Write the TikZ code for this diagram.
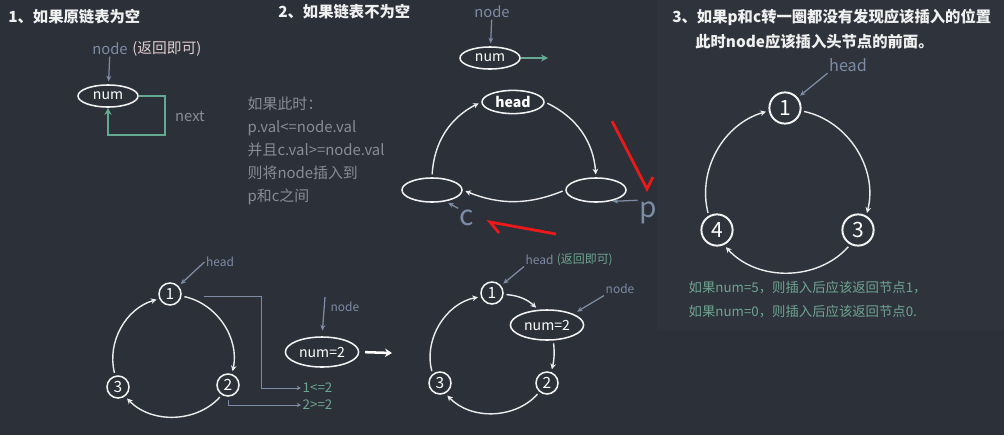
\documentclass[tikz,border=0pt]{standalone}
\usepackage{fontspec}
\setmainfont{Noto Sans CJK SC}
\usetikzlibrary{arrows.meta,positioning,shapes.geometric,calc}
\definecolor{bg}{RGB}{44,48,56}
\definecolor{pnl}{RGB}{47,51,59}
\definecolor{lbl}{RGB}{125,140,165}
\definecolor{grn}{RGB}{100,170,145}
\definecolor{grntxt}{RGB}{110,165,145}
\definecolor{txt}{RGB}{135,140,150}
\definecolor{pnk}{RGB}{225,205,205}
\definecolor{redink}{RGB}{235,25,25}
\tikzset{
  heading/.style={anchor=west,text=white!94!black,inner sep=0pt,font=\fontsize{10.9}{13}\selectfont\bfseries},
  oval/.style={ellipse,draw=white!95!black,line width=1.1pt,text=white,minimum width=1.5cm,minimum height=0.55cm,inner sep=0pt,font=\fontsize{10}{12}\selectfont},
  cnode/.style={circle,draw=white!95!black,line width=1.1pt,text=white,minimum size=0.55cm,inner sep=0pt,font=\fontsize{11}{12}\selectfont},
  bignode/.style={cnode,minimum size=0.78cm,line width=1.4pt,font=\fontsize{15}{16}\selectfont},
  tag/.style={text=lbl,inner sep=1pt,font=\fontsize{10.5}{12}\selectfont},
  smalltag/.style={tag,font=\fontsize{8.5}{10}\selectfont},
  ring/.style={-{Stealth[length=4pt,width=4pt]},line width=1pt,draw=white!92!black,shorten <=2pt,shorten >=2pt},
  pointer/.style={-{Stealth[length=4pt,width=3.5pt]},line width=0.9pt,draw=lbl,shorten >=2pt},
  loopback/.style={-{Stealth[length=5pt,width=5pt]},line width=1.6pt,draw=grn},
  compare/.style={-{Stealth[length=3pt,width=3pt]},line width=0.5pt,draw=lbl},
  scribble/.style={line width=2pt,draw=redink},
}
\begin{document}
\begin{tikzpicture}[x=0.025cm,y=0.025cm]
\fill[bg] (0,0) rectangle (1004,-435);
\useasboundingbox (0,0) rectangle (1004,-435);
\fill[pnl] (657,0) rectangle (1004,-330);

% part 1: empty list
\node[heading] (t1) at (8,-17) {1、如果原链表为空};
\node[tag] (nd1) at (110,-49) {node};
\node[tag,text=pnk,right=1pt of nd1] (ret1) {(返回即可)};
\node[oval] (n1) at (108,-96) {num};
\draw[pointer] (nd1) -- (n1);
\coordinate (lp) at (165,-135);
\draw[loopback] (n1.east) -| (lp) -| (n1.south);
\node[tag,text=txt] (nx) at (190,-116) {next};

% part 2: list not empty
\node[heading] (t2) at (278,-12) {2、如果链表不为空};
\node[tag] (nd2) at (492,-12) {node};
\node[oval] (n2) at (490,-58) {num};
\draw[pointer] (nd2) -- (n2);
\coordinate (go) at (548,-58);
\draw[loopback] (n2.east) -- (go);

\node[oval,minimum width=1.55cm,minimum height=0.58cm,font=\fontsize{10}{12}\selectfont\bfseries] (hd) at (513,-102) {head};
\node[oval,minimum height=0.6cm] (cn) at (432,-190) {};
\node[oval,minimum height=0.6cm] (pn) at (596,-190) {};
\draw[ring] (hd.east) to[bend left=30] (pn.north);
\draw[ring] (pn.west) to[bend left=22] (cn.east);
\draw[ring] (cn.north) to[bend left=30] (hd.west);

\node[tag,text=txt,anchor=north west,align=left,font=\fontsize{10.6}{16.4}\selectfont] (cond) at (246,-95)
  {如果此时：\\p.val<=node.val\\并且c.val>=node.val\\则将node插入到\\p和c之间};

\node[tag,font=\fontsize{20}{20}\selectfont] (cl) at (467,-218) {c};
\node[tag,font=\fontsize{20}{20}\selectfont] (pl) at (648,-213) {p};
\draw[pointer] (cl.north west) -- (cn.-40);
\draw[pointer] (pl.north west) -- (pn.-40);

% hand drawn marks
\draw[scribble] (612,-121) -- (647,-189) -- (653,-177);
\draw[scribble] (556,-234) -- (490,-222) -- (499,-233);

% part 3: insert before head
\node[heading] (t3a) at (672,-17) {3、如果p和c转一圈都没有发现应该插入的位置};
\node[heading] (t3b) at (695,-42) {此时node应该插入头节点的前面。};
\node[tag,font=\fontsize{11.5}{13}\selectfont] (hd3) at (848,-65) {head};
\node[bignode] (k1) at (785,-108) {1};
\node[bignode] (k3) at (858,-230) {3};
\node[bignode] (k4) at (717,-230) {4};
\draw[pointer] (hd3.south west) -- (k1);
\draw[ring] (k1.-10) to[bend left=46] (k3.60);
\draw[ring] (k3.-118) to[bend left=48] (k4.-65);
\draw[ring] (k4.120) to[bend left=44] (k1.190);
\node[tag,text=grntxt,anchor=west,font=\fontsize{9.5}{11}\selectfont] (r1) at (687,-288) {如果num=5，则插入后应该返回节点1，};
\node[tag,text=grntxt,anchor=west,font=\fontsize{9.5}{11}\selectfont] (r2) at (687,-312) {如果num=0，则插入后应该返回节点0.};

% bottom left: before insert
\node[smalltag] (hb) at (220,-262) {head};
\node[cnode] (b1) at (170,-294) {1};
\node[cnode] (b2) at (228,-385) {2};
\node[cnode] (b3) at (118,-387) {3};
\draw[pointer] (hb.west) -- (b1);
\draw[ring] (b1.-10) to[bend left=45] (b2.70);
\draw[ring] (b2.-122) to[bend left=47] (b3.-53);
\draw[ring] (b3.104) to[bend left=44] (b1.204);
\node[smalltag,text=grntxt,anchor=west,font=\fontsize{9.5}{11}\selectfont] (cmp1) at (301,-388) {1<=2};
\node[smalltag,text=grntxt,anchor=west,font=\fontsize{9.5}{11}\selectfont] (cmp2) at (301,-405) {2>=2};
\draw[compare,shorten <=0.55cm] (b1.-10) -- ++(80,0) |- (cmp1.west);
\draw[compare,shorten <=2pt] (b2.south) |- (cmp2.west);

\node[smalltag,anchor=west] (nd3) at (329,-307) {node};
\coordinate (pin3) at (325,-297);
\node[oval,minimum width=1.83cm,minimum height=0.75cm] (e1) at (322,-352) {num=2};
\draw[pointer,shorten >=4pt] (pin3) -- (e1.north);
\coordinate (ar) at (392,-353);
\draw[-{Stealth[length=5pt,width=6pt]},line width=1.8pt,white,shorten <=4pt] (e1.east) -- (ar);

% bottom right: after insert
\node[smalltag,anchor=west] (hr) at (524,-260) {head};
\node[smalltag,text=grntxt,right=0pt of hr] (hr2) {(返回即可)};
\node[cnode] (c1) at (492,-293) {1};
\node[oval,minimum width=1.83cm,minimum height=0.75cm] (e2) at (547,-325) {num=2};
\node[cnode] (c2) at (547,-383) {2};
\node[cnode] (c3) at (440,-383) {3};
\node[smalltag] (nd4) at (620,-289) {node};
\draw[pointer] (hr.south west) -- (c1);
\draw[pointer,shorten >=3pt] (nd4.south west) -- (e2.north east);
\draw[ring] (c1.-7) to[bend left=20] (e2.120);
\draw[ring] (e2.-68) to[bend left=10] (c2.69);
\draw[ring] (c2.-130) to[bend left=47] (c3.-63);
\draw[ring] (c3.129) to[bend left=47] (c1.198);
\end{tikzpicture}
\end{document}
